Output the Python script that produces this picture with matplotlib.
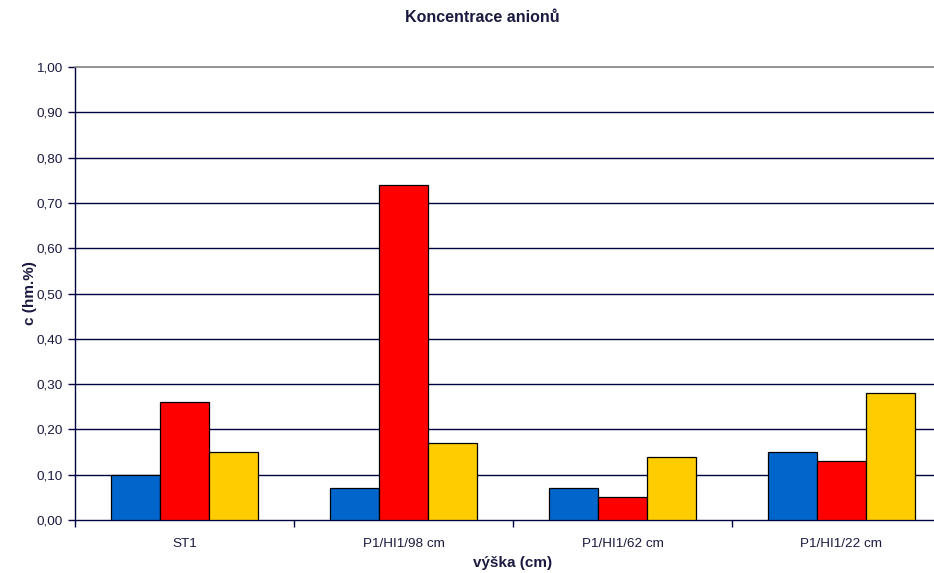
import matplotlib
matplotlib.use("Agg")
import matplotlib.pyplot as plt
import numpy as np

plt.rcParams['font.family'] = ['Liberation Sans', 'DejaVu Sans']

categories = ["ST1", "P1/HI1/98 cm", "P1/HI1/62 cm", "P1/HI1/22 cm"]
series_blue = [0.10, 0.07, 0.07, 0.15]
series_red = [0.26, 0.74, 0.05, 0.13]
series_yellow = [0.15, 0.17, 0.14, 0.28]
y_ticks = [0.0, 0.1, 0.2, 0.3, 0.4, 0.5, 0.6, 0.7, 0.8, 0.9, 1.0]

text_color = "#1a1a40"
navy = "#000040"

W, H = 934, 573
fig = plt.figure(figsize=(W / 100, H / 100), dpi=100)
fig.patch.set_facecolor("white")
left, right, top, bottom = 75, 951, 67, 520
ax = fig.add_axes([left / W, (H - bottom) / H, (right - left) / W, (bottom - top) / H])

x = np.arange(len(categories))
bw = 0.224
colors = ["#0066CC", "#FF0000", "#FFCC00"]
for i, (vals, c) in enumerate(zip([series_blue, series_red, series_yellow], colors)):
    ax.bar(x + (i - 1) * bw, vals, width=bw, color=c, edgecolor="black",
           linewidth=0.9, zorder=3)

ax.set_xlim(-0.5, len(categories) - 0.5)
ax.set_ylim(0, 1.0)

# horizontal gridlines
for v in y_ticks[1:-1]:
    ax.axhline(v, color=navy, linewidth=1.0, zorder=1)

ax.set_yticks(y_ticks)
ax.set_yticklabels([f"{v:.2f}".replace(".", ",") for v in y_ticks])
ax.set_xticks(x)
ax.set_xticklabels(categories)
ax.set_xticks(np.arange(-0.5, len(categories), 1.0), minor=True)
ax.tick_params(axis="x", which="major", length=0, pad=13, labelsize=9.7, labelcolor=text_color)
ax.tick_params(axis="x", which="minor", length=5, width=1, color=navy, direction="out")
ax.tick_params(axis="y", length=5, width=1, color=navy, direction="out", pad=4,
               labelsize=9.7, labelcolor=text_color)

ax.spines["right"].set_visible(False)
ax.spines["top"].set_color("#808080")
ax.spines["top"].set_linewidth(1.2)
ax.spines["left"].set_color(navy)
ax.spines["bottom"].set_color(navy)
ax.spines["left"].set_linewidth(1.0)
ax.spines["bottom"].set_linewidth(1.0)

fig.text(482 / W, 1 - 18 / H, "Koncentrace anionů", ha="center", va="center",
         fontsize=11.5, fontweight="bold", color=text_color)
fig.text(513 / W, 1 - 563 / H, "výška (cm)", ha="center", va="center",
         fontsize=11, fontweight="bold", color=text_color)
fig.text(30 / W, 1 - 293 / H, "c (hm.%)", ha="center", va="center", rotation=90,
         fontsize=11, fontweight="bold", color=text_color)

fig.savefig("out.png", dpi=100, facecolor="white")
